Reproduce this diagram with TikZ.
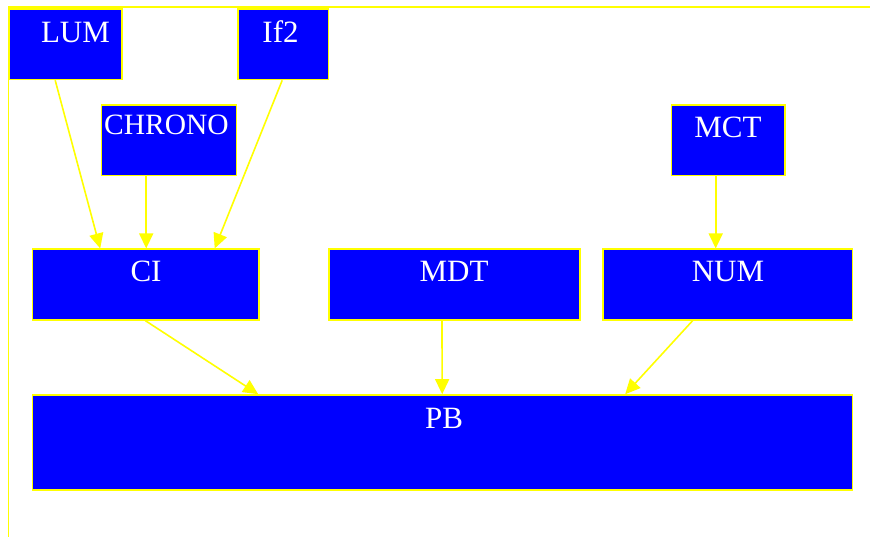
\documentclass[tikz,border=0pt]{standalone}
\usepackage{fontspec}
\setmainfont{Liberation Serif}
\usetikzlibrary{arrows.meta,calc}
\definecolor{boxblue}{RGB}{0,0,255}
\definecolor{lineyellow}{RGB}{255,255,0}
\tikzset{
  box/.style={draw=lineyellow, fill=boxblue, line width=1.6pt, inner sep=0pt, minimum height=70.5pt},
  txt/.style={text=white, font=\fontsize{31}{36}\selectfont, inner sep=0pt, anchor=base},
  edge/.style={draw=lineyellow, line width=1.6pt, -{Triangle[length=15pt,width=14pt]}},
  frame/.style={draw=lineyellow, line width=1.6pt}
}
\begin{document}
\begin{tikzpicture}[x=1pt,y=-1pt]
\useasboundingbox (0,0) rectangle (870,537);
% frame lines
\coordinate (ftr) at (870,7);
\coordinate (ftl) at (8.3,7);
\coordinate (fbl) at (8.3,537);
\draw[frame] (ftr) -- (ftl) -- (fbl);
% boxes
\node[box, minimum width=112.5pt] (lum) at (65.75,44.25) {};
\node[box, minimum width=90.5pt] (if2) at (283.25,44.25) {};
\node[box, minimum width=135pt] (chrono) at (169,140.25) {};
\node[box, minimum width=113.5pt] (mct) at (728.25,140.25) {};
\node[box, minimum width=226.5pt] (ci) at (145.75,284.5) {};
\node[box, minimum width=250.5pt] (mdt) at (454.5,284.5) {};
\node[box, minimum width=249.5pt] (num) at (727.75,284.5) {};
\node[box, minimum width=820pt, minimum height=95pt] (pb) at (442.5,442.5) {};
% labels
\node[txt] (lumt) at (75.5,42.5) {LUM};
\node[txt] (if2t) at (280.5,42.5) {If2};
\node[txt, font=\fontsize{29.5}{34}\selectfont] (chronot) at (166.5,135) {CHRONO};
\node[txt] (mctt) at (728,138) {MCT};
\node[txt] (cit) at (146,282) {CI};
\node[txt] (mdtt) at (454,282) {MDT};
\node[txt] (numt) at (728,282) {NUM};
\node[txt] (pbt) at (444,428) {PB};
% edges
\draw[edge] ($(lum.south west)+(46.5,0)$) -- ($(ci.north west)+(68.5,0)$);
\draw[edge] ($(chrono.south west)+(45.5,0)$) -- ($(ci.north west)+(114.5,0)$);
\draw[edge] ($(if2.south west)+(45,0)$) -- ($(ci.north west)+(183,0)$);
\draw[edge] ($(mct.south west)+(45,0)$) -- ($(num.north west)+(113.5,0)$);
\draw[edge] ($(ci.south west)+(113.5,0)$) -- ($(pb.north west)+(226.5,0)$);
\draw[edge] ($(mdt.south west)+(113.5,0)$) -- ($(pb.north west)+(410.5,0)$);
\draw[edge] ($(num.south west)+(90.5,0)$) -- ($(pb.north west)+(593.5,0)$);
\end{tikzpicture}
\end{document}
